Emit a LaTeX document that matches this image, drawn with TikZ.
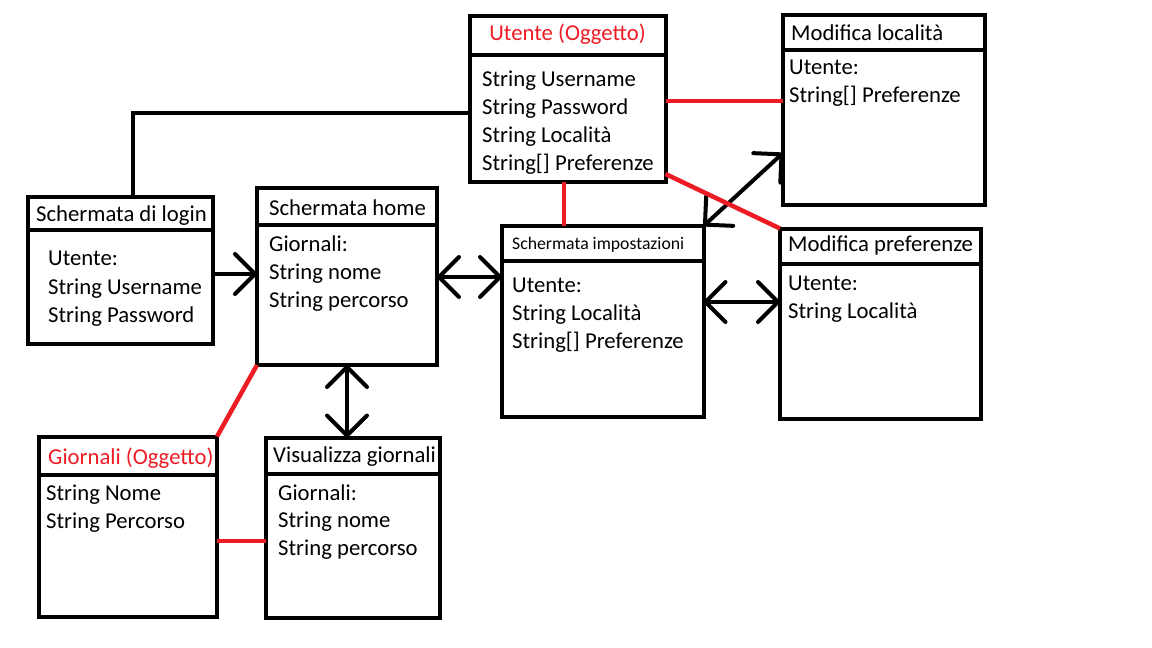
\documentclass[tikz,border=0pt]{standalone}
\usepackage{fontspec}
\setmainfont{Carlito}
\usetikzlibrary{arrows.meta}
\definecolor{pred}{HTML}{ED1C24}
\tikzset{
  boxst/.style={draw=black, line width=4pt, rectangle, inner sep=0pt, outer sep=0pt},
  divline/.style={draw=black, line width=4pt},
  txt/.style={anchor=base west, inner sep=0pt, font=\fontsize{22.7}{27}\selectfont},
  smalltxt/.style={anchor=base west, inner sep=0pt, font=\fontsize{17.7}{21}\selectfont},
  conn/.style={draw=black, line width=4pt},
  redconn/.style={draw=pred, line width=4.5pt},
  tip/.tip={Straight Barb[length=20pt, width=40pt, round]},
  arr/.style={conn, line cap=round, -tip},
  darr/.style={conn, line cap=round, tip-tip},
}
\newcommand{\umlbox}[6]{%
  \node[boxst, minimum width={(#4-#2)*1pt}, minimum height={(#5-#3)*1pt}] (#1) at ({(#2+#4)/2},{(#3+#5)/2}) {};
  \draw[divline] (#1.west |- 0,#6) -- (#1.east |- 0,#6);
}
\begin{document}
\begin{tikzpicture}[x=1pt, y=-1pt]
\fill[white] (0,0) rectangle (1152,648);
\useasboundingbox (0,0) rectangle (1152,648);

% boxes
\umlbox{login}{28}{197}{213}{344}{230}
\umlbox{home}{257}{188}{437}{365}{225}
\umlbox{utente}{469.5}{15.5}{665.5}{182}{54.5}
\umlbox{modloc}{783}{14.5}{985}{204.5}{49.5}
\umlbox{modpref}{780}{228.5}{981}{419}{263.5}
\umlbox{impost}{502}{226}{703.5}{417}{261}
\umlbox{giornali}{38.5}{436.5}{217}{617}{475}
\umlbox{visual}{265.5}{437.5}{440}{618}{473.5}

% texts
\node[txt] (t1) at (36,221) {Schermata di login};
\node[txt] (t2) at (48,265) {Utente:};
\node[txt] (t3) at (48,294) {String Username};
\node[txt] (t4) at (48,322) {String Password};

\node[txt] (h1) at (269,215) {Schermata home};
\node[txt] (h2) at (269,251) {Giornali:};
\node[txt] (h3) at (269,279) {String nome};
\node[txt] (h4) at (269,307) {String percorso};

\node[txt, anchor=base, text=pred] (u1) at (567.5,40) {Utente (Oggetto)};
\node[txt] (u2) at (482,86) {String Username};
\node[txt] (u3) at (482,114) {String Password};
\node[txt] (u4) at (482,142) {String Località};
\node[txt] (u5) at (482,170) {String[] Preferenze};

\node[txt] (l1) at (791,40) {Modifica località};
\node[txt] (l2) at (789,74) {Utente:};
\node[txt] (l3) at (789,102) {String[] Preferenze};

\node[smalltxt] (i1) at (512,249) {Schermata impostazioni};
\node[txt] (i2) at (512,292) {Utente:};
\node[txt] (i3) at (512,320) {String Località};
\node[txt] (i4) at (512,348) {String[] Preferenze};

\node[txt] (p1) at (788,251) {Modifica preferenze};
\node[txt] (p2) at (788,290) {Utente:};
\node[txt] (p3) at (788,318) {String Località};

\node[txt, text=pred] (g1) at (48,464) {Giornali (Oggetto)};
\node[txt] (g2) at (46,500) {String Nome};
\node[txt] (g3) at (46,528) {String Percorso};

\node[txt] (v1) at (273,462) {Visualizza giornali};
\node[txt] (v2) at (278,500) {Giornali:};
\node[txt] (v3) at (278,527) {String nome};
\node[txt] (v4) at (278,555) {String percorso};

% black connectors
\draw[conn] (utente.west |- 0,113) -| (login.north -| 133,0);
\draw[arr] (login.east |- 0,274) -- (home.west |- 0,274);
\draw[darr] (home.east |- 0,277) -- (impost.west |- 0,277);
\draw[darr] (impost.east |- 0,302) -- (modpref.west |- 0,302);
\draw[darr] (home.south -| 347,0) -- (visual.north -| 347,0);
\draw[darr] (impost.north east) -- (modloc.west |- 0,153);

% red connectors
\draw[redconn] (utente.east |- 0,101) -- (modloc.west |- 0,101);
\draw[redconn] (utente.south -| 564,0) -- (impost.north -| 564,0);
\draw[redconn] (utente.east |- 0,174) -- (modpref.north west);
\draw[redconn] (home.south west) -- (giornali.north east);
\draw[redconn] (giornali.east |- 0,541) -- (visual.west |- 0,541);
\end{tikzpicture}
\end{document}
